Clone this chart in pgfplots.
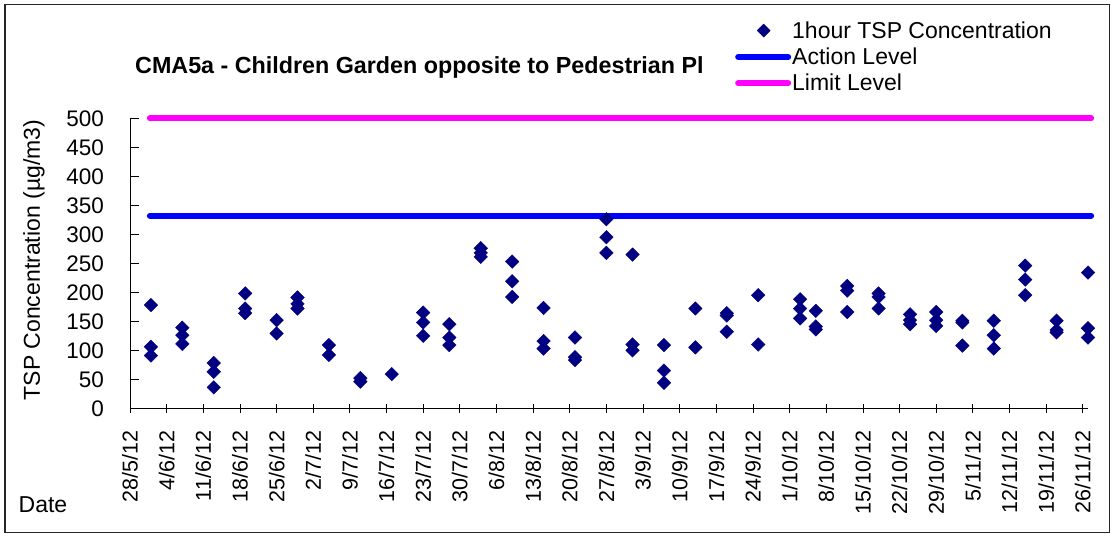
\documentclass[border=0pt]{standalone}
\usepackage{fontspec}
\setmainfont{Liberation Sans}
\usepackage{pgfplots}
\pgfplotsset{compat=1.18}
\definecolor{navyblue}{HTML}{000080}
\definecolor{actblue}{HTML}{0000FF}
\definecolor{limmag}{HTML}{FF00FF}
\begin{document}
\begin{tikzpicture}[x=1pt,y=1pt]
\node[anchor=base west, inner sep=0pt, font=\fontsize{23.3}{26}\selectfont\bfseries] at (135,460.7) {CMA5a - Children Garden opposite to Pedestrian Pl};
\node[anchor=base west, inner sep=0pt, font=\fontsize{23}{26}\selectfont] at (18.5,21.5) {Date};
\begin{axis}[
  at={(130pt,125.7pt)}, anchor=south west,
  scale only axis, width=958pt, height=290pt,
  xmin=0, xmax=183, ymin=0, ymax=500,
  clip=false,
  axis x line*=bottom, axis y line*=left,
  axis line style={black, line width=0.9pt},
  xtick={0,7,...,182},
  xticklabels={28/5/12,4/6/12,11/6/12,18/6/12,25/6/12,2/7/12,9/7/12,16/7/12,23/7/12,30/7/12,6/8/12,13/8/12,20/8/12,27/8/12,3/9/12,10/9/12,17/9/12,24/9/12,1/10/12,8/10/12,15/10/12,22/10/12,29/10/12,5/11/12,12/11/12,19/11/12,26/11/12},
  ytick={0,50,...,500},
  xtick align=center, ytick align=inside,
  major tick length=9pt,
  tick style={black, line width=0.8pt},
  /pgf/number format/assume math mode=true,
  xticklabel style={rotate=90, anchor=east, inner sep=0pt, font=\fontsize{21.5}{24}\selectfont},
  xticklabel shift=18pt,
  yticklabel style={anchor=east, inner sep=0pt, font=\fontsize{22.5}{26}\selectfont},
  yticklabel shift=26pt,
  ylabel={TSP Concentration (µg/m3)},
  ylabel style={at={(axis description cs:-0.1002,0.511)}, anchor=center, font=\fontsize{23}{26}\selectfont, inner sep=0pt},
  legend style={at={(axis description cs:0.6315,1.338)}, anchor=north west, draw=none, fill=none, inner sep=0pt, row sep=6.2pt, column sep=0pt, font=\fontsize{23}{26}\selectfont, nodes={inner sep=1pt}},
  legend cell align=left,
  reverse legend,
]
\addplot[limmag, line width=6pt, line cap=round,
  legend image code/.code={\draw[limmag, line width=6pt, line cap=round] (3pt,0pt) -- (53pt,0pt);}]
  coordinates {(3.8,500) (183.6,500)};
\addlegendentry{Limit Level}
\addplot[actblue, line width=6pt, line cap=round,
  legend image code/.code={\draw[actblue, line width=6pt, line cap=round] (3pt,0pt) -- (53pt,0pt);}]
  coordinates {(3.8,332) (183.6,332)};
\addlegendentry{Action Level}
\addplot[only marks, mark=square*, mark size=4.8pt, mark options={rotate=45, fill=navyblue, draw=navyblue, line width=0.4pt},
  legend image code/.code={\path[draw=none] (0pt,0pt) -- (56pt,0pt); \path[draw=none] plot[mark=square*, mark size=4.6pt, mark options={rotate=45, fill=navyblue, draw=navyblue}] coordinates {(28.5pt,0pt)};}]
  coordinates {
  (4,178) (4,106) (4,91)
  (10,139) (10,126) (10,111)
  (16,78) (16,63) (16,36)
  (22,198) (22,172) (22,164)
  (28,152) (28,129)
  (32,191) (32,180) (32,172)
  (38,109) (38,92)
  (44,52) (44,46)
  (50,59)
  (56,165) (56,148) (56,125)
  (61,145) (61,122) (61,109)
  (67,276) (67,268) (67,261)
  (73,253) (73,219) (73,192)
  (79,173) (79,116) (79,103)
  (85,122) (85,88) (85,83)
  (91,326) (91,295) (91,268)
  (96,265) (96,110) (96,100)
  (102,109) (102,65) (102,44)
  (108,172) (108,105)
  (114,164) (114,160) (114,132)
  (120,195) (120,110)
  (128,188) (128,172) (128,155)
  (131,168) (131,141) (131,136)
  (137,211) (137,203) (137,166)
  (143,198) (143,192) (143,172)
  (149,162) (149,152) (149,145)
  (154,166) (154,152) (154,142)
  (159,151) (159,148) (159,108)
  (165,151) (165,126) (165,103)
  (171,246) (171,222) (171,195)
  (177,151) (177,135) (177,131)
  (183,234) (183,138) (183,122)
  };
\addlegendentry{1hour TSP Concentration}
\end{axis}
\draw[black!85, line width=1.2pt] (5,1.3) rectangle (1109.5,529.3);
\pgfresetboundingbox
\path[use as bounding box] (0,0) rectangle (1111,534);
\end{tikzpicture}
\end{document}
